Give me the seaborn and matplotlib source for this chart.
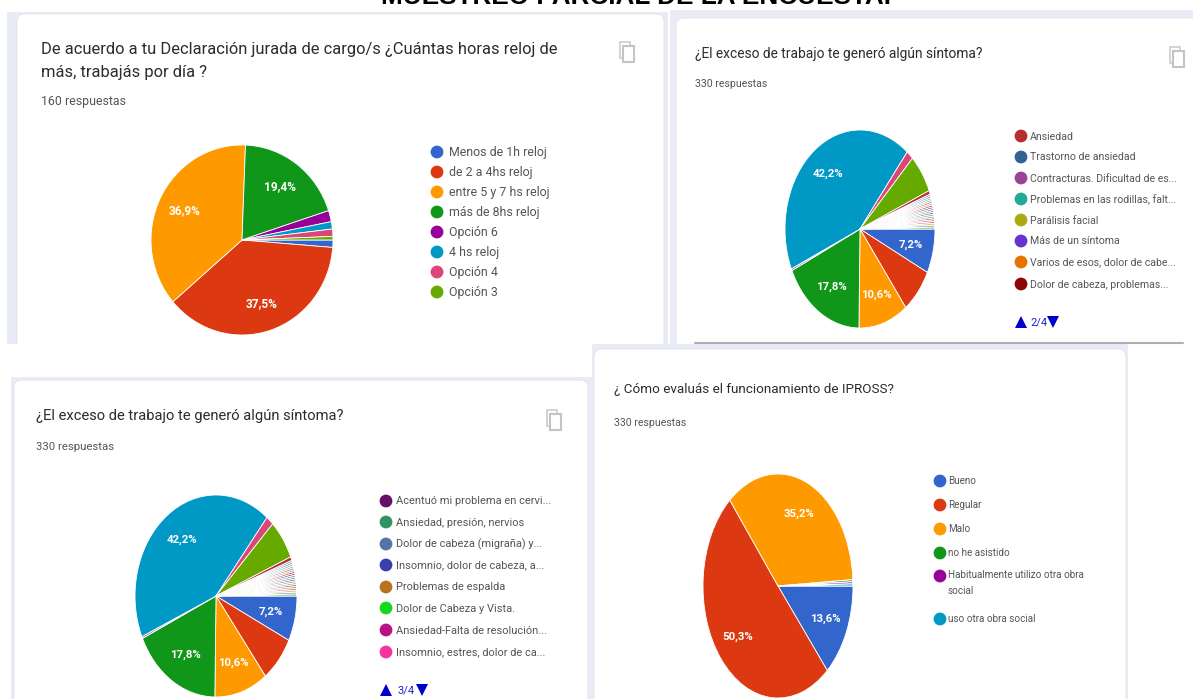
import matplotlib
matplotlib.use("Agg")
import matplotlib.pyplot as plt
from matplotlib.patches import Rectangle, FancyBboxPatch
import pandas as pd
import seaborn as sns

# Google Forms colours
google_colors = ["#3366CC", "#DC3912", "#FF9900", "#109618", "#990099", "#0099C6", "#DD4477", "#66AA00",
                 "#B82E2E", "#316395", "#994499", "#22AA99", "#AAAA11", "#6633CC", "#E67300", "#8B0707",
                 "#651067", "#329262", "#5574A6", "#3B3EAC", "#B77322", "#16D620", "#B91383", "#F4359E",
                 "#9C5935", "#A9C413", "#2A778D", "#668D1C", "#BEA413", "#0C5922", "#743411"]

main_title = "MUESTREO PARCIAL DE LA ENCUESTA."

# Horas de mas
hours_title = "De acuerdo a tu Declaración jurada de cargo/s ¿Cuántas horas reloj de\nmás, trabajás por día ?"
hours_count = "160 respuestas"
hours_values = [1.25, 37.5, 36.9, 19.4, 1.9, 1.25, 1.25, 0.6]
hours_shown = [37.5, 36.9, 19.4]
hours_legend = ["Menos de 1h reloj", "de 2 a 4hs reloj", "entre 5 y 7 hs reloj", "más de 8hs reloj",
                "Opción 6", "4 hs reloj", "Opción 4", "Opción 3"]

# Sintomas (same pie on two legend pages)
symptom_title = "¿El exceso de trabajo te generó algún síntoma?"
symptom_count = "330 respuestas"
symptom_values = [7.2, 7.3, 10.6, 17.8, 0.3, 42.2, 1.5, 6.3, 0.6,
                  0.3, 0.3, 0.3, 0.3, 0.3, 0.3, 0.3, 0.3, 0.3, 0.3,
                  0.3, 0.3, 0.3, 0.3, 0.3, 0.3, 0.3, 0.3, 0.3]
symptom_shown = [7.2, 10.6, 17.8, 42.2]
symptom_legend_p2 = ["Ansiedad", "Trastorno de ansiedad", "Contracturas. Dificultad de es...",
                     "Problemas en las rodillas, falt...", "Parálisis facial", "Más de un síntoma",
                     "Varios de esos, dolor de cabe...", "Dolor de cabeza, problemas..."]
symptom_legend_p3 = ["Acentuó mi problema en cervi...", "Ansiedad, presión, nervios", "Dolor de cabeza (migraña) y...",
                     "Insomnio, dolor de cabeza, a...", "Problemas de espalda", "Dolor de Cabeza y Vista.",
                     "Ansiedad-Falta de resolución...", "Insomnio, estres, dolor de ca..."]

# IPROSS
ipross_title = "¿ Cómo evaluás el funcionamiento de IPROSS?"
ipross_count = "330 respuestas"
ipross_values = [13.6, 50.3, 35.2, 0.3, 0.3, 0.3]
ipross_shown = [13.6, 50.3, 35.2]
ipross_legend = ["Bueno", "Regular", "Malo", "no he asistido", "Habitualmente utilizo otra obra\nsocial",
                 "uso otra obra social"]

W, H = 1193, 699
PAGE = "#E9ECF6"
TITLE_C = "#2b2c30"
TEXT_C = "#555558"

sns.set_theme(style="white")
plt.rcParams["font.family"] = ["Roboto", "DejaVu Sans"]

fig = plt.figure(figsize=(W / 100, H / 100), dpi=100)
canvas = fig.add_axes([0, 0, 1, 1])
canvas.set_xlim(0, W)
canvas.set_ylim(H, 0)
canvas.axis("off")


def draw_card(x0, y0, x1, y1, pad_l, pad_t, pad_r):
    # lavender page band with a white rounded card clipped to it
    band = Rectangle((x0, y0), x1 - x0, y1 - y0, fc=PAGE, ec="none", zorder=1)
    canvas.add_patch(band)
    card = FancyBboxPatch((x0 + pad_l + 8, y0 + pad_t + 8), x1 - x0 - pad_l - pad_r - 16, y1 - y0,
                          boxstyle="round,pad=8,rounding_size=8", fc="white", ec="#E0E2E8", lw=0.6, zorder=2)
    canvas.add_patch(card)
    card.set_clip_path(band)


def draw_copy_icon(x, y):
    canvas.add_patch(Rectangle((x, y), 10, 16, fc="none", ec="#CDCDCD", lw=1.2, zorder=3))
    canvas.add_patch(Rectangle((x + 3, y + 4), 11, 16, fc="white", ec="#C4C4C4", lw=1.5, zorder=4))


def draw_pie(values, shown, cx, cy, rx, ry, size=8.2):
    ax = fig.add_axes([(cx - rx) / W, 1 - (cy + ry) / H, 2 * rx / W, 2 * ry / H])
    ax.patch.set_alpha(0)
    vals = iter(values)

    def pct_label(p):
        v = next(vals)
        return f"{v:.1f}%".replace(".", ",") if v in shown else ""

    wedges, _, _ = ax.pie(values, colors=sns.color_palette(google_colors, len(values)), startangle=0,
                          counterclock=False, radius=1, autopct=pct_label, pctdistance=0.7, normalize=True,
                          wedgeprops=dict(edgecolor="white", linewidth=0.6),
                          textprops=dict(color="white", fontsize=size, fontweight="bold"))
    # the tiny slices read as almost white hairlines
    for w, v in zip(wedges, values):
        if v <= 0.3:
            w.set_linewidth(0.8)
    ax.set_aspect("auto")
    ax.set_xlim(-1, 1)
    ax.set_ylim(-1, 1)


def draw_legend(labels, colors, x, ys, text_x, size=8, dot=85):
    table = pd.DataFrame({"x": [x] * len(labels), "y": ys, "label": labels})
    sns.scatterplot(data=table, x="x", y="y", hue="label", palette=list(colors), s=dot, linewidth=0,
                    legend=False, ax=canvas, zorder=5)
    for lab, y in zip(labels, ys):
        # two line entries keep the first line level with the dot
        va = "top" if "\n" in lab else "center"
        yy = y - 6 if "\n" in lab else y + 0.5
        canvas.text(text_x, yy, lab, fontsize=size, color=TEXT_C, va=va, ha="left", linespacing=1.75, zorder=5)


def draw_pager(text, x_up, x_text, x_down, y):
    canvas.plot([x_up], [y], marker="^", ms=9, color="#0000CC", ls="none", mew=0, zorder=5)
    canvas.plot([x_down], [y], marker="v", ms=9, color="#0000CC", ls="none", mew=0, zorder=5)
    canvas.text(x_text, y + 1, text, fontsize=8, color="#2222CC", va="center", zorder=5)


# cards, back to front
draw_card(7, 12, 668, 344, 10, 2, 4)
draw_card(670, 10, 1193, 344, 6, 8, -10)
canvas.plot([695, 1183], [342.5, 342.5], color="#AEAEB2", lw=1.5, zorder=3)
draw_card(11, 377, 592, 699, 3, 3, 4)
draw_card(592, 344, 1128, 699, 2, 5, 2)

# the heading is cut by the top edge of the picture, as in the screenshot
canvas.text(636, 3.5, main_title, fontsize=18.8, fontweight="bold", color="black", ha="center", va="baseline",
            family=["Liberation Sans", "DejaVu Sans"], zorder=6)

# panel 1
canvas.text(41, 61, hours_title, fontsize=11.9, color=TITLE_C, va="center", linespacing=1.72, zorder=5)
canvas.text(41, 102, hours_count, fontsize=8.9, color=TEXT_C, va="center", zorder=5)
draw_copy_icon(620, 42)
draw_pie(hours_values, hours_shown, 242, 240, 91, 95, size=8.6)
draw_legend(hours_legend, google_colors[:8], 437, [152, 172, 192, 212, 232, 252, 272, 292], 449, size=8.9)

# panel 2
canvas.text(695, 54, symptom_title, fontsize=9.9, color=TITLE_C, va="center", zorder=5)
canvas.text(695, 84, symptom_count, fontsize=7.6, color=TEXT_C, va="center", zorder=5)
draw_copy_icon(1170, 47)
draw_pie(symptom_values, symptom_shown, 860, 229, 75, 99)
draw_legend(symptom_legend_p2, google_colors[8:16], 1021, [136, 157, 178, 199, 220, 241, 262, 284], 1030, size=7.6)
draw_pager("2/4", 1021, 1030, 1053, 322)

# panel 3
canvas.text(36, 416, symptom_title, fontsize=10.6, color=TITLE_C, va="center", zorder=5)
canvas.text(36, 447, symptom_count, fontsize=8.2, color=TEXT_C, va="center", zorder=5)
draw_copy_icon(547, 410)
draw_pie(symptom_values, symptom_shown, 216, 596, 81, 101)
draw_legend(symptom_legend_p3, google_colors[16:24], 386, [501, 522, 544, 565, 587, 608, 630, 652], 396, size=7.9)
draw_pager("3/4", 386, 397, 422, 690)

# panel 4
canvas.text(614, 389, ipross_title, fontsize=9.7, color=TITLE_C, va="center", zorder=5)
canvas.text(614, 423, ipross_count, fontsize=7.6, color=TEXT_C, va="center", zorder=5)
draw_pie(ipross_values, ipross_shown, 778, 586, 75, 112)
draw_legend(ipross_legend, google_colors[:6], 940, [481, 505, 529, 553, 576, 619], 948, size=7.1)

canvas.set_xlim(0, W)
canvas.set_ylim(H, 0)
canvas.axis("off")

fig.savefig("out.png", dpi=100)
